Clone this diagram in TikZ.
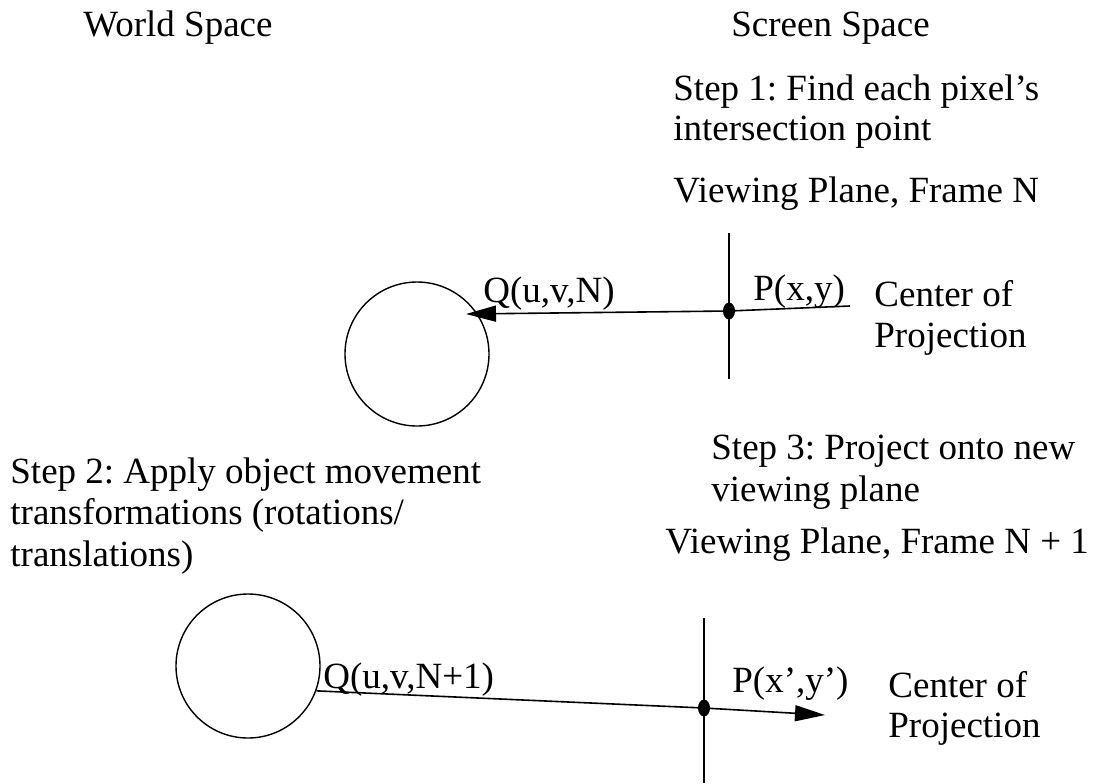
\documentclass[tikz,border=0pt]{standalone}
\usepackage{fontspec}
\setmainfont{Liberation Serif}
\usetikzlibrary{arrows.meta,shapes.geometric}
\frenchspacing
\begin{document}
\begin{tikzpicture}[x=0.5pt,y=-0.5pt,
  lbl/.style={anchor=base west, inner sep=0pt, font=\fontsize{18.5}{20}\selectfont},
  object/.style={draw, circle, line width=0.7pt, minimum size=72pt, inner sep=0pt},
  hit/.style={fill, ellipse, minimum width=6pt, minimum height=8.5pt, inner sep=0pt},
  plane/.style={line width=1.3pt},
  ray/.style={line width=0.8pt, -{Triangle[length=15pt,width=8pt]}}]
\useasboundingbox (0,0) rectangle (1094,783);

% headings
\node[lbl] (world)  at (83,36)  {World Space};
\node[lbl] (screen) at (731,36) {Screen Space};

% frame N
\node[lbl] (s1a) at (673,100) {Step 1: Find each pixel's};
\node[lbl] (s1b) at (673,140) {intersection point};
\node[lbl] (vpN) at (673,202) {Viewing Plane, Frame N};

\node[object] (obj1) at (417,354) {};
\node[hit] (hit1) at (729,311) {};
\coordinate (vp1top) at (729,233);
\coordinate (vp1bot) at (729,379);
\draw[plane] (vp1top) -- (vp1bot);
\coordinate (cop1) at (850,306);
\coordinate (q1) at (466,314);
\draw[ray] (cop1) -- (hit1.center) -- (q1);
\node[lbl] (qlab1) at (483,302) {Q(u,v,N)};
\node[lbl] (plab1) at (753,300) {P(x,y)};
\node[lbl] (c1a) at (874,306) {Center of};
\node[lbl] (c1b) at (874,347) {Projection};

% frame N + 1
\node[lbl] (s2a) at (10,483) {Step 2: Apply object movement};
\node[lbl] (s2b) at (10,524) {transformations (rotations/};
\node[lbl] (s2c) at (10,566) {translations)};
\node[lbl] (s3a) at (711,459) {Step 3: Project onto new};
\node[lbl] (s3b) at (711,501) {viewing plane};
\node[lbl] (vpN1) at (665,553) {Viewing Plane, Frame N + 1};

\node[object] (obj2) at (248,666) {};
\node[hit] (hit2) at (704,708) {};
\coordinate (vp2top) at (704,618);
\coordinate (vp2bot) at (704,783);
\draw[plane] (vp2top) -- (vp2bot);
\coordinate (tip2) at (825,715);
\draw[ray] (obj2.-20) -- (hit2.center) -- (tip2);
\node[lbl] (qlab2) at (323,688) {Q(u,v,N+1)};
\node[lbl] (plab2) at (732,692) {P(x',y')};
\node[lbl] (c2a) at (888,697) {Center of};
\node[lbl] (c2b) at (888,737) {Projection};
\end{tikzpicture}
\end{document}
